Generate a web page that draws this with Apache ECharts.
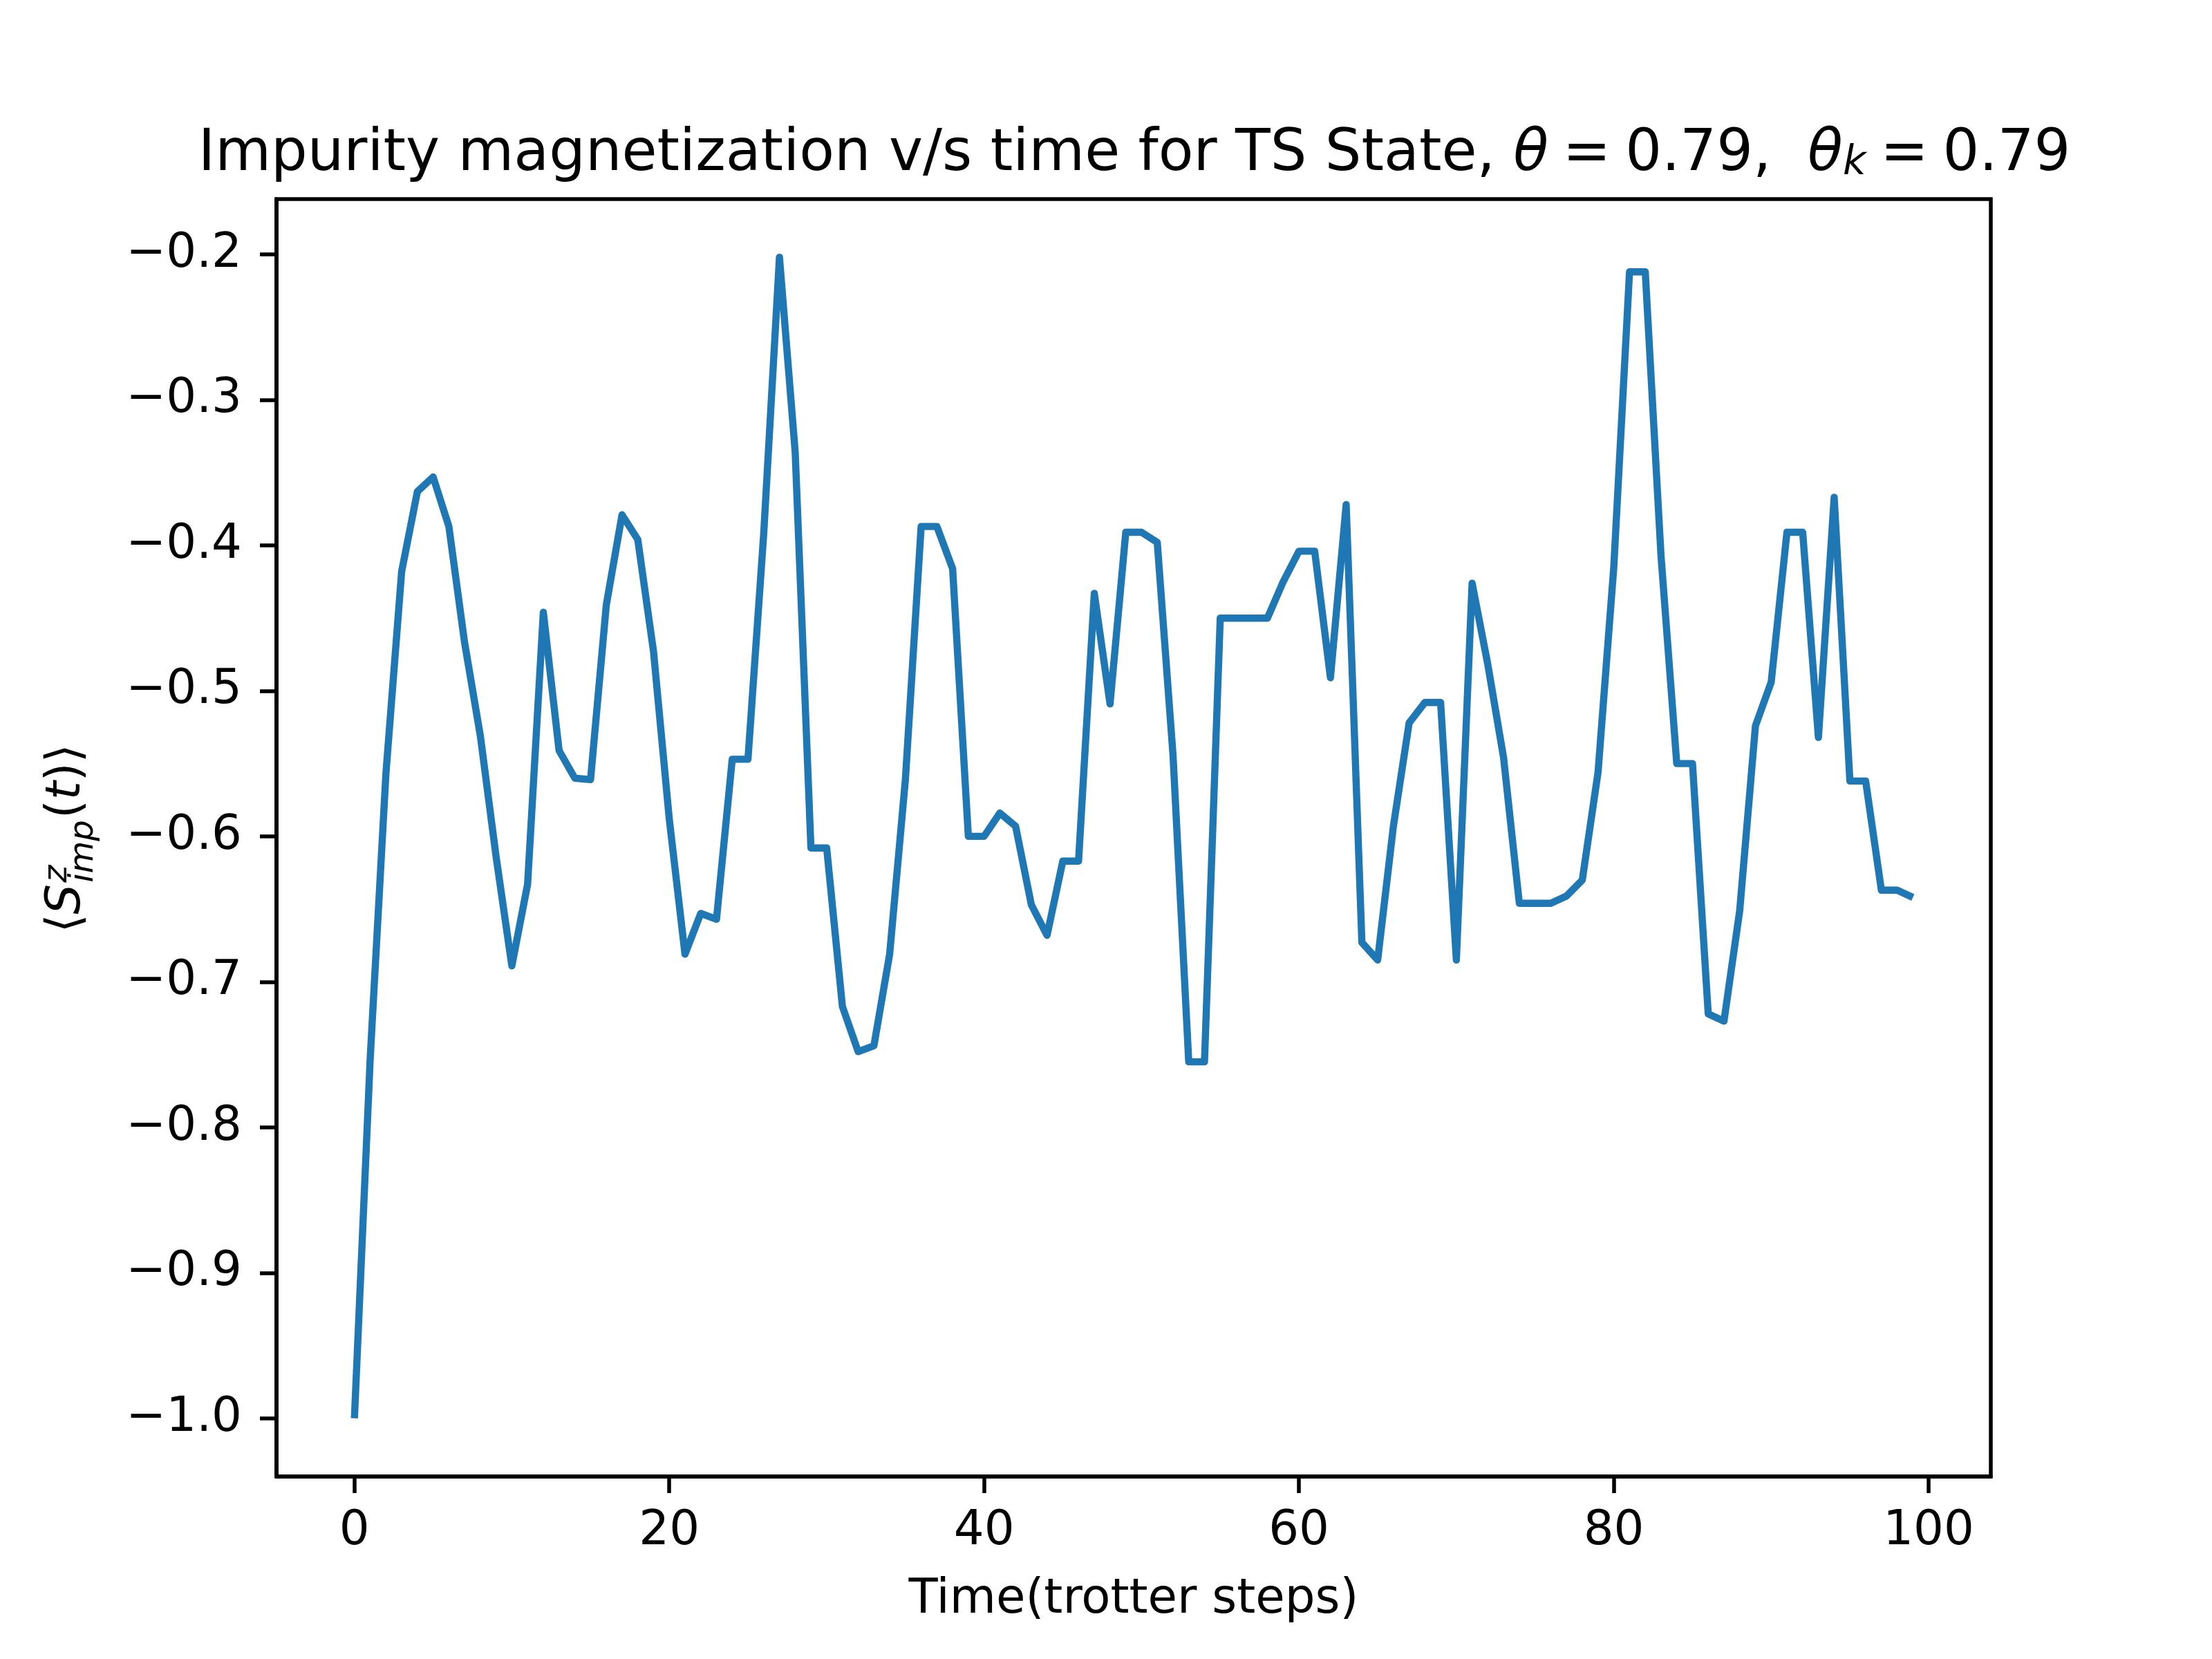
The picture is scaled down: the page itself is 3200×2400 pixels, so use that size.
<!DOCTYPE html>
<html>
<head>
<meta charset="utf-8">
<script src="https://cdn.jsdelivr.net/npm/echarts@6/dist/echarts.min.js"></script>
<style>
html,body{margin:0;padding:0;background:#fff;}
#chart{width:3200px;height:2400px;}
</style>
</head>
<body>
<div id="chart"></div>
<script>
// Impurity magnetization <S^z_imp(t)> at each trotter step 0..99
const magnetization = [
  -1.000, -0.753, -0.557, -0.418, -0.363, -0.353, -0.387, -0.467, -0.531, -0.614,
  -0.689, -0.633, -0.446, -0.541, -0.560, -0.561, -0.441, -0.379, -0.396, -0.473,
  -0.588, -0.681, -0.653, -0.657, -0.547, -0.547, -0.392, -0.202, -0.336, -0.608,
  -0.608, -0.717, -0.748, -0.744, -0.681, -0.561, -0.387, -0.387, -0.416, -0.600,
  -0.600, -0.584, -0.593, -0.647, -0.668, -0.617, -0.617, -0.433, -0.509, -0.391,
  -0.391, -0.398, -0.544, -0.755, -0.755, -0.450, -0.450, -0.450, -0.450, -0.425,
  -0.404, -0.404, -0.491, -0.372, -0.673, -0.685, -0.593, -0.522, -0.508, -0.508,
  -0.685, -0.426, -0.482, -0.546, -0.646, -0.646, -0.646, -0.641, -0.630, -0.556,
  -0.415, -0.212, -0.212, -0.407, -0.550, -0.550, -0.722, -0.727, -0.651, -0.524,
  -0.494, -0.391, -0.391, -0.532, -0.367, -0.562, -0.562, -0.637, -0.637, -0.642
];
const xTicks = [0, 20, 40, 60, 80, 100];
const yTicks = [-1.0, -0.9, -0.8, -0.7, -0.6, -0.5, -0.4, -0.3, -0.2];

const FONT = 'DejaVu Sans';
const chart = echarts.init(document.getElementById('chart'), null, {renderer: 'canvas'});

const fmtY = v => (v < 0 ? '\u2212' : '') + Math.abs(v).toFixed(1);

// ---- y-axis label built as math-like text: ⟨S^z_imp(t)⟩ ----
const mctx = document.createElement('canvas').getContext('2d');
function measure(txt, size, italic) {
  mctx.font = (italic ? 'italic ' : '') + size + 'px "' + FONT + '"';
  return mctx.measureText(txt).width;
}
const BIG = 69, SMALL = 48;
const pieces = [
  {t: '\u27E8', s: BIG, it: false, dy: 0},
  {t: 'S', s: BIG, it: true, dy: 0},
  {t: 'z', s: SMALL, it: true, dy: -21, stack: true},
  {t: 'imp', s: SMALL, it: true, dy: 17, stackEnd: true},
  {t: '(', s: BIG, it: false, dy: 0},
  {t: 't', s: BIG, it: true, dy: 0},
  {t: ')', s: BIG, it: false, dy: 0},
  {t: '\u27E9', s: BIG, it: false, dy: 0}
];
let cursor = 0, stackStart = 0, stackW = 0;
const placed = [];
pieces.forEach(p => {
  const w = measure(p.t, p.s, p.it);
  if (p.stack) {
    stackStart = cursor; stackW = w;
    placed.push({p, x: cursor + 2});
  } else if (p.stackEnd) {
    placed.push({p, x: stackStart + 2});
    cursor = stackStart + Math.max(stackW, w) + 4;
  } else {
    placed.push({p, x: cursor});
    cursor += w;
  }
});
const totalW = cursor;
const yLabelChildren = placed.map(({p, x}) => ({
  type: 'text',
  x: x - totalW / 2,
  y: p.dy - 0.35 * p.s,
  style: {
    text: p.t,
    fontFamily: FONT,
    fontSize: p.s,
    fontStyle: p.it ? 'italic' : 'normal',
    fill: '#000',
    align: 'left',
    verticalAlign: 'middle'
  }
}));

chart.setOption({
  animation: false,
  backgroundColor: '#ffffff',
  graphic: [{
    type: 'text',
    x: 1641,
    y: 266,
    style: {
      text: 'Impurity magnetization v/s time for TS State, {i|θ}\u2005=\u20050.79,  {i|θ}{sub|k}\u2005=\u20050.79',
      fontFamily: FONT,
      fontSize: 83,
      fill: '#000',
      align: 'center',
      verticalAlign: 'bottom',
      rich: {
        i: {fontFamily: FONT, fontStyle: 'italic', fontSize: 83},
        sub: {fontFamily: FONT, fontStyle: 'italic', fontSize: 58, verticalAlign: 'bottom', lineHeight: 40}
      }
    }
  }, {
    type: 'group',
    x: 121,
    y: 1213,
    rotation: Math.PI / 2,
    children: yLabelChildren
  }],
  grid: {
    left: 400, right: 320, top: 288, bottom: 264,
    show: true,
    borderColor: '#000',
    borderWidth: 5.5,
    containLabel: false,
    outerBoundsMode: 'none'
  },
  xAxis: {
    type: 'value',
    min: -4.95,
    max: 103.95,
    name: 'Time(trotter steps)',
    nameLocation: 'middle',
    nameGap: 145,
    nameTextStyle: {fontFamily: FONT, fontSize: 69, color: '#000'},
    axisLine: {show: true, onZero: false, lineStyle: {color: '#000', width: 5.5}},
    axisTick: {show: true, length: 24, inside: false, customValues: xTicks, lineStyle: {color: '#000', width: 5.5}},
    axisLabel: {show: true, margin: 46, customValues: xTicks, fontFamily: FONT, fontSize: 69, color: '#000',
      formatter: v => String(Math.round(v))},
    splitLine: {show: false}
  },
  yAxis: {
    type: 'value',
    min: -1.04,
    max: -0.162,
    axisLine: {show: true, onZero: false, lineStyle: {color: '#000', width: 5.5}},
    axisTick: {show: true, length: 24, inside: false, customValues: yTicks, lineStyle: {color: '#000', width: 5.5}},
    axisLabel: {show: true, margin: 50, customValues: yTicks, fontFamily: FONT, fontSize: 69, color: '#000',
      formatter: fmtY},
    splitLine: {show: false}
  },
  series: [{
    type: 'line',
    data: magnetization.map((v, i) => [i, v]),
    showSymbol: false,
    symbol: 'none',
    lineStyle: {color: '#1f77b4', width: 10.4, join: 'round', cap: 'butt'},
    itemStyle: {color: '#1f77b4'},
    clip: false
  }]
});
</script>
</body>
</html>
